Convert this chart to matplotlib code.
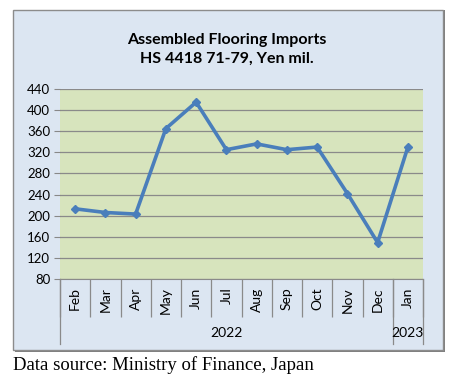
import matplotlib
matplotlib.use("Agg")
import matplotlib.pyplot as plt
from matplotlib.patches import Rectangle
from matplotlib.transforms import blended_transform_factory

months = ["Feb", "Mar", "Apr", "May", "Jun", "Jul", "Aug", "Sep", "Oct", "Nov", "Dec", "Jan"]
imports = [213, 206, 203, 365, 415, 325, 336, 325, 330, 242, 149, 330]
years = ["2022", "2023"]
year_spans = [(0, 10), (11, 11)]
yticks = [80, 120, 160, 200, 240, 280, 320, 360, 400, 440]

fig = plt.figure(figsize=(4.55, 3.84), dpi=100)

# outer chart box
fig.patches.append(Rectangle((15/455, 1-352/384), 430/455, 342/384, transform=fig.transFigure,
                             facecolor="#7f7f7f", edgecolor="none", zorder=-2))
fig.patches.append(Rectangle((13/455, 1-350/384), 430/455, 340/384, transform=fig.transFigure,
                             facecolor="#dce6f2", edgecolor="#8c8c8c", lw=1, zorder=-1))

ax = fig.add_axes([60/455, 1-279/384, 363/455, 190/384])
ax.set_facecolor("#d7e4bd")
ax.plot(range(len(months)), imports, color="#4a7ebb", lw=2.6, marker="D", ms=4, zorder=3)
ax.set_xlim(-0.5, len(months) - 0.5)
ax.set_ylim(80, 440)
ax.set_yticks(yticks)
ax.tick_params(axis="y", length=4, color="#888888", labelsize=9.5, pad=3)
for lab in ax.get_yticklabels():
    lab.set_family("Lato")
ax.grid(axis="y", color="#8a8a8a", lw=0.9)
for s in ["top", "right", "left"]:
    ax.spines[s].set_visible(False)
ax.spines["bottom"].set_color("#8a8a8a")

ax.set_xticks(range(len(months)))
ax.set_xticklabels(months, rotation=90, fontsize=10, family="Lato")
ax.tick_params(axis="x", length=0, pad=6)
ax.set_xticks([i - 0.5 for i in range(len(months) + 1)], minor=True)
ax.tick_params(axis="x", which="minor", length=27, color="#8a8a8a", width=0.9)

tr = blended_transform_factory(ax.transData, ax.transAxes)
year_bottom = -(344 - 279) / 190
for x in [-0.5, 10.5, 11.5]:
    ax.plot([x, x], [0, year_bottom], transform=tr, color="#8a8a8a", lw=0.9, clip_on=False)
for yr, (a, b) in zip(years, year_spans):
    ax.text((a + b) / 2, -(333 - 279) / 190, yr, transform=tr, ha="center", va="center",
            fontsize=10, family="Lato")

fig.text(227/455, 1-40/384, "Assembled Flooring Imports", ha="center", va="center",
         fontsize=11.5, fontweight="bold", family="Lato")
fig.text(227/455, 1-59/384, "HS 4418 71-79, Yen mil.", ha="center", va="center",
         fontsize=11.5, fontweight="bold", family="Lato")
fig.text(13/455, 1-365/384, "Data source: Ministry of Finance, Japan", ha="left", va="center",
         fontsize=13.5, family="Liberation Serif")

fig.savefig("out.png", dpi=100)
